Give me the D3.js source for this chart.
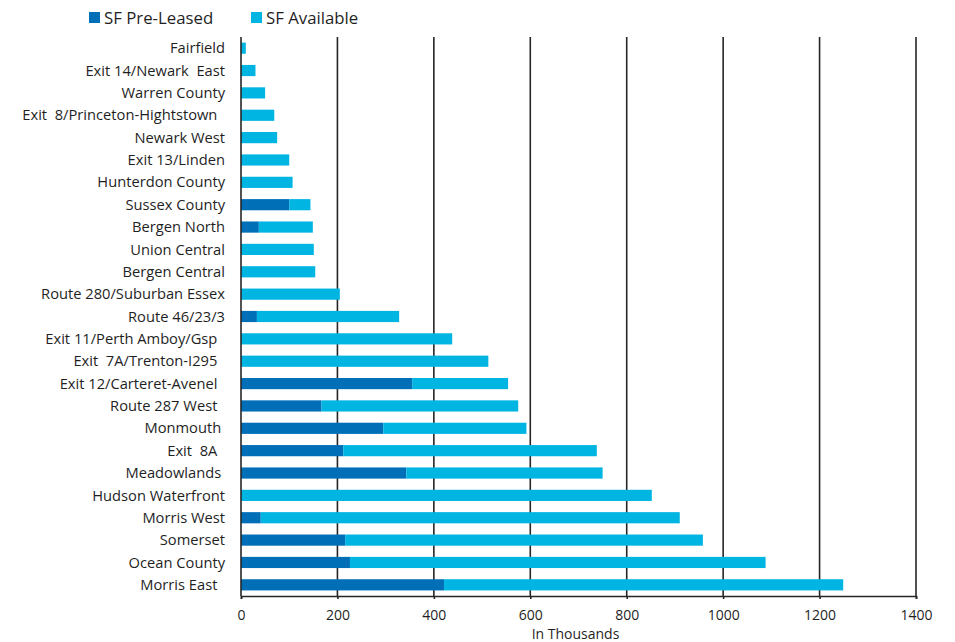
<!DOCTYPE html>
<html>
<head>
<meta charset="utf-8">
<script src="https://cdn.jsdelivr.net/npm/d3@7"></script>
<style>
  html, body { margin: 0; padding: 0; background: #ffffff; }
  svg { display: block; font-family: "Open Sans", "Noto Sans", sans-serif; }
  .cat { white-space: pre; }
</style>
</head>
<body>
<svg id="chart" width="955" height="642"></svg>
<script>
// Submarkets, top to bottom
const categories = [
  "Fairfield", "Exit 14/Newark  East", "Warren County", "Exit  8/Princeton-Hightstown  ",
  "Newark West", "Exit 13/Linden", "Hunterdon County", "Sussex County", "Bergen North",
  "Union Central", "Bergen Central", "Route 280/Suburban Essex", "Route 46/23/3",
  "Exit 11/Perth Amboy/Gsp  ", "Exit  7A/Trenton-I295  ", "Exit 12/Carteret-Avenel  ",
  "Route 287 West  ", "Monmouth ", "Exit  8A  ", "Meadowlands ", "Hudson Waterfront",
  "Morris West", "Somerset", "Ocean County", "Morris East  "
];

// Square feet, in thousands
const preLeased = [
  0, 0, 0, 0, 0, 0, 0, 100, 37, 0, 0, 0, 33,
  0, 0, 355, 167, 295, 212, 343, 0, 41, 216, 226, 421
];
const available = [
  10, 30, 50, 69, 75, 100, 107, 44, 112, 151, 154, 205, 295,
  438, 513, 199, 408, 297, 526, 407, 852, 869, 742, 862, 828
];

const seriesNames = ["SF Pre-Leased", "SF Available"];
const seriesColors = ["#006FB7", "#00B5E2"];
const xTicks = [0, 200, 400, 600, 800, 1000, 1200, 1400];
const xTitle = "In Thousands";

const svg = d3.select("#chart");
const plotLeft = 241, plotRight = 916, plotTop = 37, plotBottom = 596;
const ink = "#1f1f1f";

const x = d3.scaleLinear().domain([0, 1400]).range([plotLeft, plotRight]);
const y = d3.scaleBand().domain(d3.range(categories.length))
  .range([plotTop, plotBottom]).paddingInner(0.5).paddingOuter(0.25);

const rows = categories.map((c, i) => ({ i, pre: preLeased[i], avail: available[i] }));
const layers = d3.stack().keys(["pre", "avail"])(rows);

// vertical gridlines
svg.append("g")
  .selectAll("line")
  .data(xTicks.slice(1))
  .join("line")
  .attr("x1", d => x(d)).attr("x2", d => x(d))
  .attr("y1", plotTop).attr("y2", plotBottom)
  .attr("stroke", "#262626").attr("stroke-width", 1.6);

// stacked bars
svg.append("g")
  .selectAll("g")
  .data(layers)
  .join("g")
  .attr("fill", (d, k) => seriesColors[k])
  .selectAll("rect")
  .data(d => d)
  .join("rect")
  .attr("x", d => x(d[0]))
  .attr("width", d => Math.max(0, x(d[1]) - x(d[0])))
  .attr("y", d => y(d.data.i))
  .attr("height", y.bandwidth());

// left axis line
svg.append("line")
  .attr("x1", plotLeft).attr("x2", plotLeft).attr("y1", plotTop).attr("y2", plotBottom)
  .attr("stroke", "#262626").attr("stroke-width", 1.6);

// bottom axis
const xAxis = svg.append("g")
  .attr("transform", `translate(0,${plotBottom})`)
  .call(d3.axisBottom(x).tickValues(xTicks).tickFormat(d3.format("d")).tickSize(3).tickPadding(11));
xAxis.select(".domain").attr("stroke", "#262626").attr("stroke-width", 1.6);
xAxis.selectAll(".tick line").attr("stroke", "#262626").attr("stroke-width", 1.6);
xAxis.selectAll(".tick text")
  .attr("font-family", "'Open Sans', sans-serif")
  .attr("font-size", 14).attr("fill", ink);

svg.append("text")
  .attr("x", (plotLeft + plotRight) / 2 - 3).attr("y", 639)
  .attr("text-anchor", "middle")
  .attr("font-size", 14).attr("fill", ink)
  .text(xTitle);

// category labels
svg.append("g")
  .selectAll("text")
  .data(categories)
  .join("text")
  .attr("class", "cat")
  .attr("x", plotLeft - 16)
  .attr("y", (d, i) => y(i) + y.bandwidth() / 2)
  .attr("dy", "0.35em")
  .attr("text-anchor", "end")
  .attr("font-size", 14.7).attr("fill", ink)
  .text(d => d);

// legend
const legendX = [89, 251];
const legend = svg.append("g")
  .selectAll("g")
  .data(seriesNames)
  .join("g")
  .attr("transform", (d, k) => `translate(${legendX[k]},0)`);
legend.append("rect")
  .attr("x", 0).attr("y", 12).attr("width", 11).attr("height", 11)
  .attr("fill", (d, k) => seriesColors[k]);
legend.append("text")
  .attr("x", 15).attr("y", 23.5)
  .attr("font-size", 16.8).attr("fill", ink)
  .text(d => d);
</script>
</body>
</html>
